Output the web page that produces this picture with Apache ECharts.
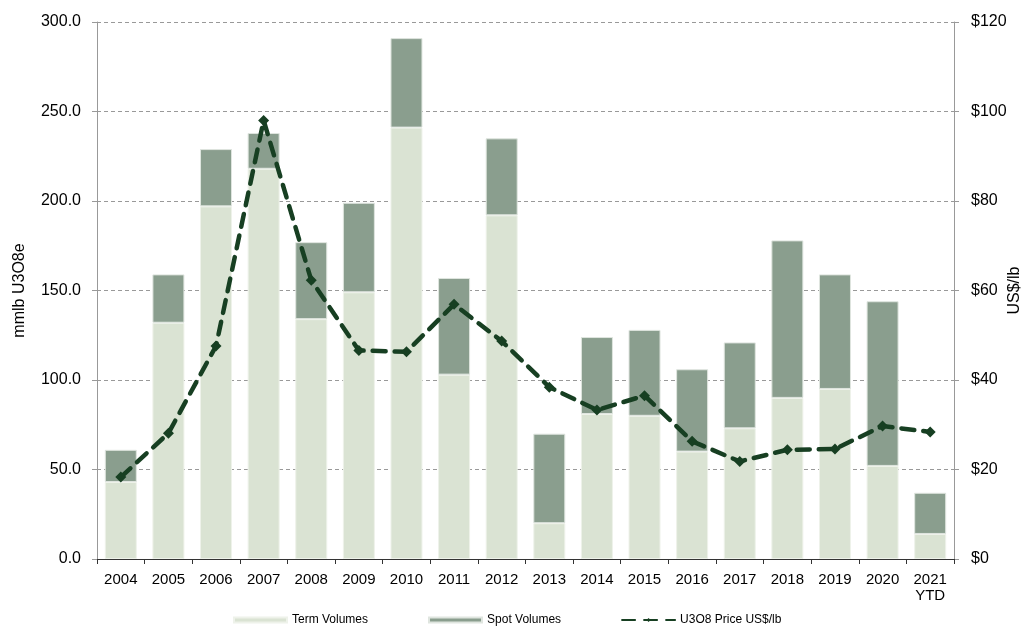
<!DOCTYPE html>
<html>
<head>
<meta charset="utf-8">
<script src="https://cdn.jsdelivr.net/npm/echarts@6/dist/echarts.min.js"></script>
<style>
html,body{margin:0;padding:0;background:#fff;}
#chart{width:1030px;height:626px;}
</style>
</head>
<body>
<div id="chart"></div>
<script>
const categories = ['2004','2005','2006','2007','2008','2009','2010','2011','2012','2013','2014','2015','2016','2017','2018','2019','2020','2021\nYTD'];
const termVolumes = [43, 132, 197, 218, 134, 149, 241, 103, 192, 20, 81, 80, 60, 73, 90, 95, 52, 14];
const spotVolumes = [18, 27, 32, 20, 43, 50, 50, 54, 43, 50, 43, 48, 46, 48, 88, 64, 92, 23];
const priceValues = [18.3, 28.1, 47.6, 98.0, 62.3, 46.6, 46.3, 56.9, 48.7, 38.4, 33.3, 36.5, 26.3, 21.8, 24.4, 24.6, 29.7, 28.4];
const leftTicks = {min: 0, max: 300, interval: 50};
const rightTicks = {min: 0, max: 120, interval: 20};

const FONT = 'Liberation Sans, Arial, sans-serif';
const chart = echarts.init(document.getElementById('chart'));
chart.setOption({
  animation: false,
  backgroundColor: '#fff',
  textStyle: {fontFamily: FONT},
  grid: {left: 97, right: 76, top: 22, bottom: 67, containLabel: false, outerBoundsMode: 'none'},
  legend: {
    top: 614,
    left: 233,
    itemWidth: 53,
    itemHeight: 5,
    itemGap: 60,
    padding: 0,
    textStyle: {fontSize: 12, color: '#000', fontFamily: FONT},
    data: [
      {name: 'Term Volumes', icon: 'rect'},
      {name: 'Spot Volumes', icon: 'rect'},
      {name: 'U3O8 Price US$/lb'}
    ]
  },
  xAxis: {
    type: 'category',
    data: categories,
    boundaryGap: true,
    axisLine: {lineStyle: {color: '#333', width: 1}},
    axisTick: {show: true, length: 5, lineStyle: {color: '#333'}},
    axisLabel: {fontSize: 15, color: '#000', margin: 13, fontFamily: FONT, lineHeight: 16},
    splitLine: {show: false}
  },
  yAxis: [
    {
      type: 'value',
      min: leftTicks.min, max: leftTicks.max, interval: leftTicks.interval,
      name: 'mmlb U3O8e',
      nameLocation: 'middle',
      nameGap: 69,
      nameMoveOverlap: false,
      nameTextStyle: {fontSize: 16, color: '#000', fontFamily: FONT},
      axisLine: {show: true, lineStyle: {color: '#999'}},
      axisTick: {show: true, length: 5, lineStyle: {color: '#999'}},
      axisLabel: {fontSize: 16, color: '#000', margin: 16, formatter: v => v.toFixed(1), fontFamily: FONT},
      splitLine: {show: true, lineStyle: {color: '#999', type: [4, 3], width: 1}}
    },
    {
      type: 'value',
      min: rightTicks.min, max: rightTicks.max, interval: rightTicks.interval,
      name: 'US$/lb',
      nameLocation: 'middle',
      nameGap: 53,
      nameRotate: 90,
      nameMoveOverlap: false,
      nameTextStyle: {fontSize: 16, color: '#000', fontFamily: FONT},
      position: 'right',
      axisLine: {show: true, lineStyle: {color: '#999'}},
      axisTick: {show: true, length: 5, lineStyle: {color: '#999'}},
      axisLabel: {fontSize: 16, color: '#000', margin: 17, formatter: v => '$' + v, fontFamily: FONT},
      splitLine: {show: false}
    }
  ],
  series: [
    {
      name: 'Term Volumes', type: 'bar', stack: 'vol', yAxisIndex: 0,
      data: termVolumes, barWidth: 32,
      itemStyle: {color: '#dae3d3', borderColor: '#eef2ea', borderWidth: 1}
    },
    {
      name: 'Spot Volumes', type: 'bar', stack: 'vol', yAxisIndex: 0,
      data: spotVolumes, barWidth: 32,
      itemStyle: {color: '#8a9e8e', borderColor: '#dfe5df', borderWidth: 1}
    },
    {
      name: 'U3O8 Price US$/lb', type: 'line', yAxisIndex: 1,
      data: priceValues,
      symbol: 'diamond', symbolSize: 11,
      itemStyle: {color: '#173f22'},
      lineStyle: {color: '#173f22', width: 4.5, type: [13, 9], cap: 'round'},
      z: 5
    }
  ]
});
</script>
</body>
</html>
